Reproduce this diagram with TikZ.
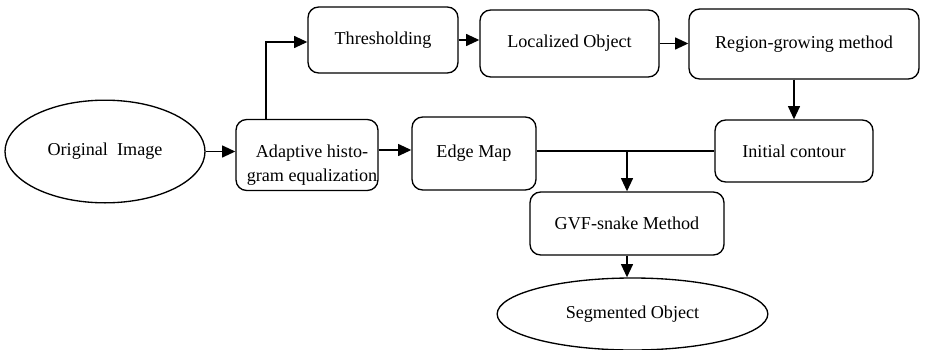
\documentclass[tikz,border=0pt]{standalone}
\usepackage{fontspec}
\setmainfont{Liberation Serif}
\usetikzlibrary{arrows.meta,shapes.geometric}
\begin{document}
\begin{tikzpicture}[x=0.75pt,y=-0.75pt,
  txt/.style={align=center,inner sep=0pt,font=\fontsize{13.6}{18.5}\selectfont},
  box/.style={txt,draw,line width=1pt,rounded corners=8pt},
  oval/.style={draw,line width=1pt,ellipse,inner sep=0pt,font=\fontsize{13.6}{18.5}\selectfont},
  arr/.style={line width=1.2pt,-{Triangle[length=10pt,width=9pt]}},
  ln/.style={line width=1.2pt}]
\useasboundingbox (0,0) rectangle (925,350);
\node[oval,minimum width=150pt,minimum height=77pt] (orig) at (105,151.5) {Original~ Image};
\node[box,minimum width=106.5pt,minimum height=53.25pt] (adapt) at (307,155) {};
\node[txt] (adaptT) at (312,165) {Adaptive histo-\\gram equalization};
\node[box,minimum width=112.5pt,minimum height=49.5pt] (thr) at (383,40) {Thresholding};
\node[box,minimum width=134.25pt,minimum height=50.25pt] (loc) at (569.5,43.5) {Localized Object};
\node[box,minimum width=172.5pt,minimum height=52.5pt] (reg) at (804,44) {Region-growing method};
\node[box,minimum width=118.5pt,minimum height=46.5pt] (init) at (794,151) {Initial contour};
\node[box,minimum width=93pt,minimum height=54.75pt] (edge) at (474,153.5) {Edge Map};
\node[box,minimum width=145.5pt,minimum height=47.25pt] (gvf) at (627,223.5) {GVF-snake Method};
\node[oval,minimum width=203pt,minimum height=54pt] (seg) at (632.5,314) {Segmented Object};
\coordinate (up) at (266,42);
\draw[arr] (orig.east) -- (orig.east -| adapt.west);
\draw[arr] (up |- adapt.north) -- (up) -- (up -| thr.west);
\draw[arr] (thr.east) -- (thr.east -| loc.west);
\draw[arr] (loc.east) -- (loc.east -| reg.west);
\draw[arr] (reg.south -| init.north) -- (init.north);
\draw[arr] (adapt.east |- 0,150) -- (edge.west |- 0,150);
\draw[ln] (edge.east |- init.west) -- (init.west);
\draw[arr] (gvf.north |- init.west) -- (gvf.north);
\draw[arr] (gvf.south) -- (gvf.south |- seg.north);
\end{tikzpicture}
\end{document}
